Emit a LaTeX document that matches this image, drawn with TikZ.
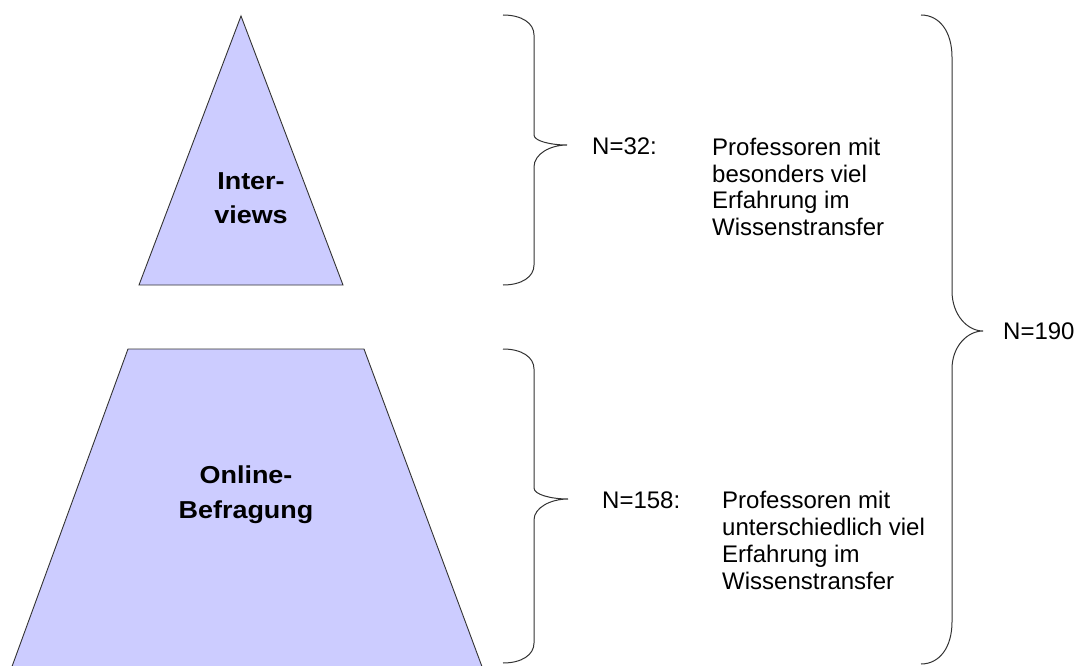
\documentclass[tikz,border=0pt]{standalone}
\usepackage{fontspec}
\setmainfont{Liberation Sans}
\newfontfamily\widebold[FakeStretch=1.1]{Liberation Sans Bold}
\definecolor{lav}{HTML}{CCCCFF}
\definecolor{edge}{HTML}{333333}
\newcommand\drawbrace[9]{%
  \draw[bracestyle] (#1,#4) .. controls ({#1+0.6*(#2-#1)},#4) and (#2,{#4+0.4*#7}) .. (#2,{#4+#7})
    -- (#2,{#5-#8}) .. controls (#2,{#5-0.4*#8}) and ({#3-0.5*(#3-#2)},#5) .. (#3,#5)
    .. controls ({#3-0.5*(#3-#2)},#5) and (#2,{#5+0.4*#9}) .. (#2,{#5+#9})
    -- (#2,{#6-#7}) .. controls (#2,{#6-0.4*#7}) and ({#1+0.6*(#2-#1)},#6) .. (#1,#6);}
\begin{document}
\begin{tikzpicture}[x=1pt,y=-1pt,
  shapestyle/.style={fill=lav,draw=edge,line width=0.9pt,line join=miter},
  bracestyle/.style={draw=edge,line width=1pt},
  lbl/.style={font=\fontsize{24}{27}\selectfont,inner sep=0pt,anchor=base west},
  desc/.style={font=\fontsize{24}{27}\selectfont,inner sep=0pt,align=left,anchor=base west},
  bold/.style={font=\fontsize{24.5}{35}\selectfont\widebold,inner sep=0pt,align=center,anchor=base}]
\useasboundingbox (0,0) rectangle (1088,666);
% shapes
\draw[shapestyle] (241,16) -- (343,285) -- (139,285) -- cycle;
\draw[shapestyle] (128,349) -- (364,349) -- (484,672) -- (10,672) -- cycle;
% labels in shapes (base = last line)
\node[bold] (iv) at (251,224) {Inter-\\views};
\node[bold] (ob) at (246,518) {Online-\\Befragung};
% braces
\drawbrace{503}{534}{567}{15}{145}{285}{20}{10}{22}
\drawbrace{503}{534}{568}{349}{499}{663}{20}{11}{21}
\drawbrace{921}{952}{983}{15}{331}{664}{42}{40}{38}
% texts (base = last line)
\node[lbl] (n32) at (592,155) {N=32:};
\node[desc] (t32) at (712,236) {Professoren mit\\besonders viel\\Erfahrung im\\Wissenstransfer};
\node[lbl] (n158) at (602,508) {N=158:};
\node[desc] (t158) at (722,589) {Professoren mit\\unterschiedlich viel\\Erfahrung im\\Wissenstransfer};
\node[lbl] (n190) at (1003,339) {N=190};
\end{tikzpicture}
\end{document}
